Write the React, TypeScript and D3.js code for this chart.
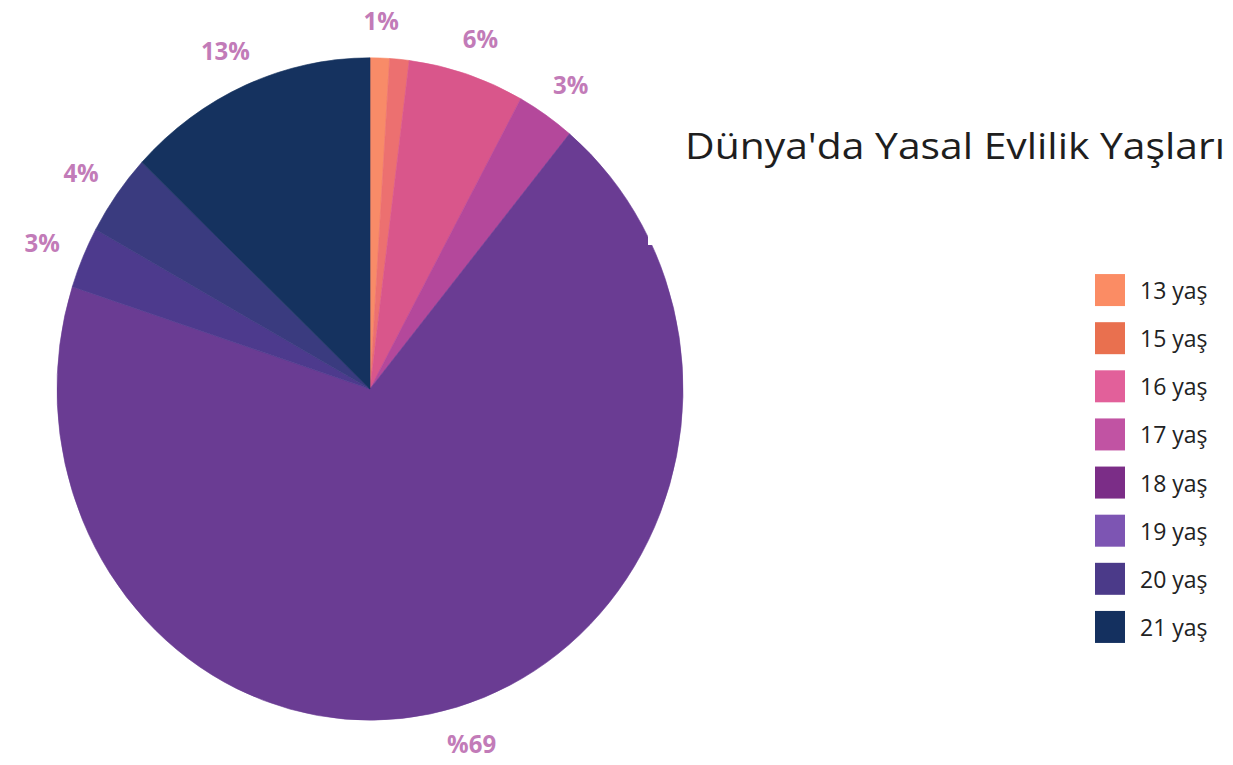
import React from "react";
import * as d3 from "d3";

const categories = ["13 yaş", "15 yaş", "16 yaş", "17 yaş", "18 yaş", "19 yaş", "20 yaş", "21 yaş"];
const values = [1, 1, 6, 3, 69, 3, 4, 13];
const sliceLabels = ["1%", "", "6%", "3%", "%69", "3%", "4%", "13%"];
const sliceColors = ["#f88b68", "#ec7070", "#d9568b", "#b4489b", "#6a3c93", "#4d3a8d", "#3a3b7f", "#15325f"];
const legendColors = ["#fb8c64", "#e9704f", "#e2609a", "#c153a3", "#7b2d87", "#7d55b3", "#4b3a89", "#14305f"];
const title = "Dünya'da Yasal Evlilik Yaşları";

export default function App() {
  const W = 1233, H = 765;
  const cx = 370, cy = 389, R = 313, sy = 1.058;
  const pie = d3.pie<number>().sort(null).value((d) => d);
  const arcs = pie(values);
  const arc = d3.arc<d3.PieArcDatum<number>>().innerRadius(0).outerRadius(R);
  const gap = 27;
  const fs = 24;
  const legendY = d3.scaleBand<string>().domain(categories).range([266, 651]).paddingInner(0);
  return (
    <svg width={W} height={H} style={{ position: "absolute", left: 0, top: 0, background: "#fff" }}>
      <rect x={0} y={0} width={W} height={H} fill="#fff" />
      <g transform={`translate(${cx},${cy}) scale(1,${sy})`}>
        {arcs.map((a, i) => (
          <path key={i} d={arc(a) || ""} fill={sliceColors[i]} stroke={sliceColors[i]} strokeWidth={0.6} />
        ))}
        {arcs.map((a, i) => {
          const lbl = sliceLabels[i];
          if (!lbl) return null;
          const m = (a.startAngle + a.endAngle) / 2;
          const dx = Math.sin(m), dy = -Math.cos(m);
          const w = fs * (0.58 * (lbl.length - 1) + 0.85);
          const h = fs * 0.72;
          const x = dx * (R + gap) + dx * w / 2;
          const y = dy * (R + gap) + dy * h / 2;
          return (
            <text
              key={"l" + i}
              x={x}
              y={y}
              textAnchor="middle"
              dominantBaseline="central"
              fontFamily="'Open Sans', sans-serif"
              fontWeight={700}
              fontSize={fs}
              fill="#c27bb8"
            >
              {lbl}
            </text>
          );
        })}
      </g>
      <rect x={648} y={130} width={40} height={115} fill="#fff" />
      <text x={685} y={159} fontFamily="'Open Sans', sans-serif" fontSize={37} fill="#1e1e1e" textLength={540} lengthAdjust="spacingAndGlyphs">
        {title}
      </text>
      {categories.map((c, i) => {
        const y = (legendY(c) as number) + legendY.bandwidth() / 2;
        return (
          <g key={"lg" + i}>
            <rect x={1095} y={y - 16} width={30} height={32} fill={legendColors[i]} />
            <text x={1140} y={y} dominantBaseline="central" fontFamily="'Open Sans', sans-serif" fontSize={23} fill="#222">
              {c}
            </text>
          </g>
        );
      })}
    </svg>
  );
}
